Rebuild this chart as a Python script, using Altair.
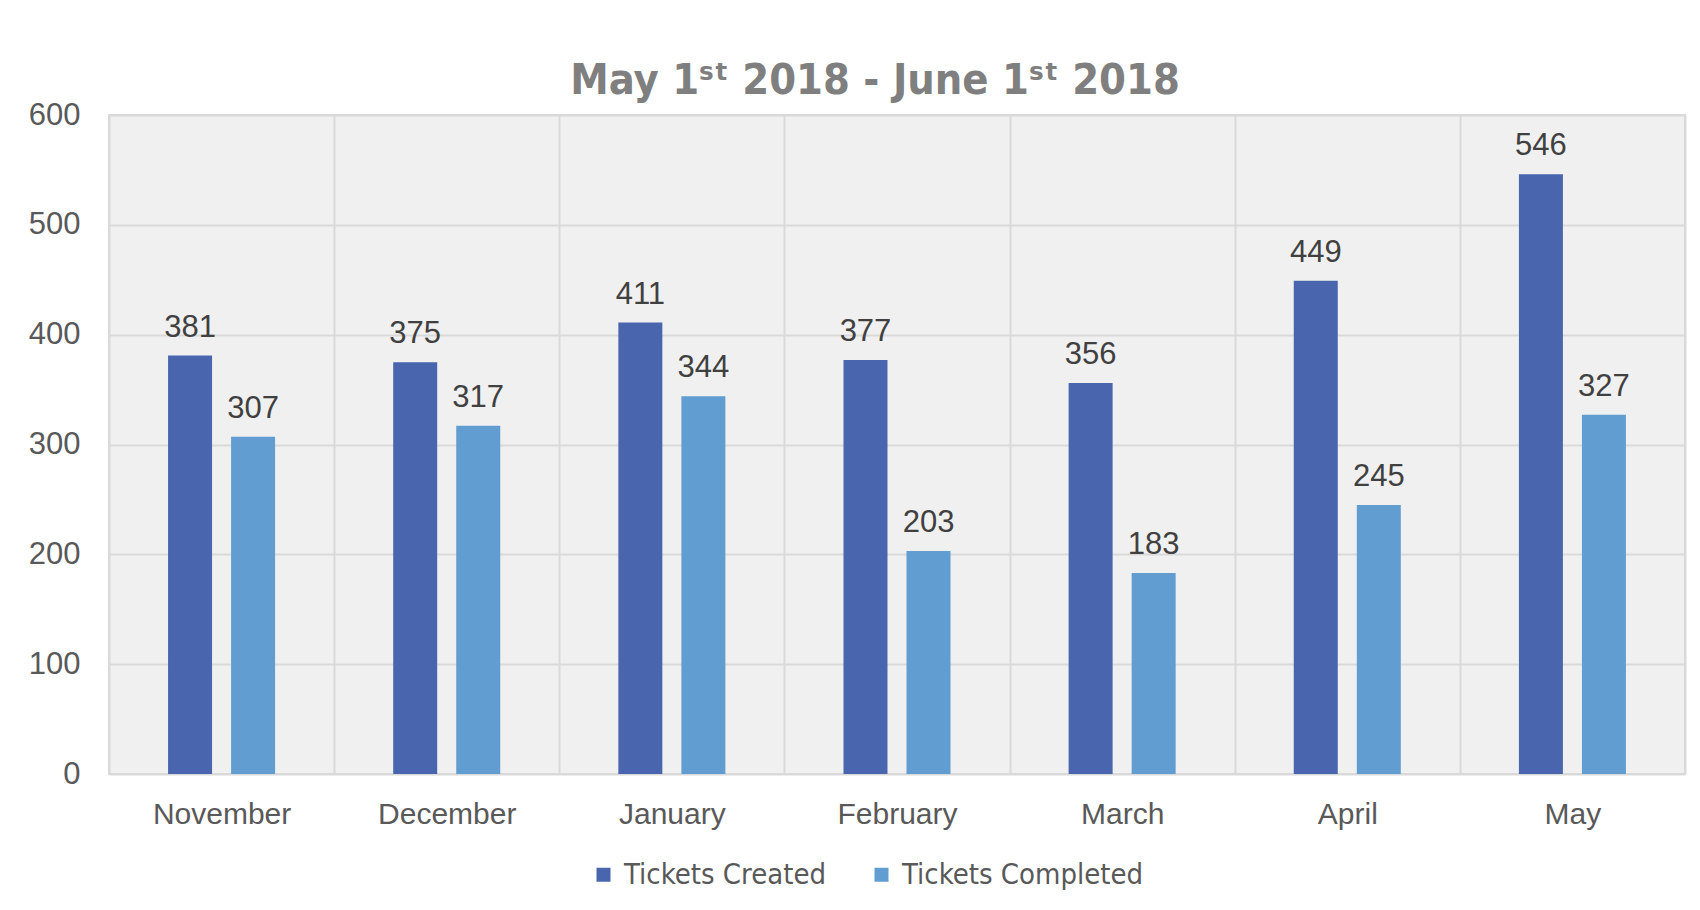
import altair as alt
import pandas as pd

months = ["November", "December", "January", "February", "March", "April", "May"]
series_names = ["Tickets Created", "Tickets Completed"]
created = [381, 375, 411, 377, 356, 449, 546]
completed = [307, 317, 344, 203, 183, 245, 327]
y_ticks = [0, 100, 200, 300, 400, 500, 600]
title_text = "May 1ˢᵗ 2018 - June 1ˢᵗ  2018"

rows = []
for m, c, d in zip(months, created, completed):
    rows.append({"month": m, "series": series_names[0], "value": c})
    rows.append({"month": m, "series": series_names[1], "value": d})
df = pd.DataFrame(rows)

axis_font = "Liberation Sans"
narrow_font = "DejaVu Sans Condensed, Liberation Sans, sans-serif"

base = alt.Chart(df).encode(
    x=alt.X(
        "month:N",
        sort=months,
        title=None,
        scale=alt.Scale(paddingInner=0, paddingOuter=0),
        axis=alt.Axis(
            labelAngle=0,
            labelFontSize=30,
            labelFont=axis_font,
            labelColor="#595959",
            labelPadding=40,
            labelBaseline="middle",
            ticks=False,
            tickSize=0,
            domain=False,
            grid=True,
            tickBand="extent",
            gridColor="#d9d9d9",
            gridWidth=2,
        ),
    ),
    xOffset=alt.XOffset(
        "series:N",
        sort=series_names,
        scale=alt.Scale(paddingInner=0.302, paddingOuter=0.937),
    ),
    y=alt.Y(
        "value:Q",
        title=None,
        scale=alt.Scale(domain=[0, 600], nice=False),
        axis=alt.Axis(
            values=y_ticks,
            labelFontSize=31,
            labelFont=axis_font,
            labelColor="#595959",
            labelPadding=29,
            ticks=False,
            tickSize=0,
            domain=False,
            gridColor="#d9d9d9",
            gridWidth=2,
        ),
    ),
)

bars = base.mark_bar().encode(
    color=alt.Color(
        "series:N",
        sort=series_names,
        scale=alt.Scale(domain=series_names, range=["#4865ad", "#619dd1"]),
        legend=alt.Legend(
            title=None,
            orient="none",
            direction="horizontal",
            legendX=480,
            legendY=745,
            symbolType="square",
            symbolSize=196,
            symbolStrokeWidth=0,
            labelFontSize=29,
            labelFont=narrow_font,
            labelColor="#595959",
            labelOffset=6,
            labelLimit=400,
            columnPadding=40,
        ),
    )
)

labels = base.mark_text(
    baseline="alphabetic",
    dy=-19,
    fontSize=31,
    font=axis_font,
    color="#404040",
).encode(text="value:Q")

chart = (
    alt.layer(bars, labels)
    .properties(
        width=1576,
        height=659,
        autosize=alt.AutoSizeParams(type="none"),
        padding={"left": 101, "top": 107, "right": 7, "bottom": 128},
        title=alt.TitleParams(
            text=title_text,
            fontSize=43,
            font=narrow_font,
            fontWeight="bold",
            color="#7f7f7f",
            anchor="middle",
            baseline="alphabetic",
            offset=19,
            dx=-22,
            dy=57,
        ),
    )
    .configure_view(stroke="#d9d9d9", strokeWidth=2, fill="#f0f0f0")
)

chart.save("out.html", embed_options={"renderer": "svg", "actions": False})
